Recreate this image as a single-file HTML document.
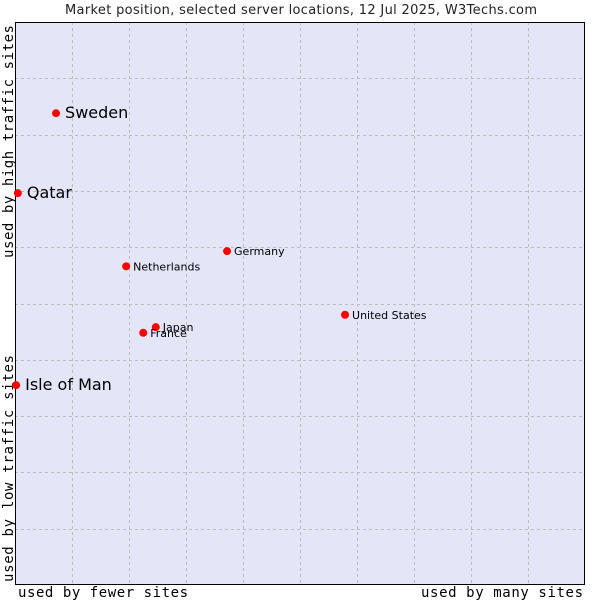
<!DOCTYPE html>
<html><head><meta charset="utf-8"><style>
body{margin:0;background:#fff;width:600px;height:600px;overflow:hidden}
svg text{font-family:"DejaVu Sans","Liberation Sans",sans-serif}
.mono{font-family:"DejaVu Sans Mono","Liberation Mono",monospace}
</style></head><body>
<svg id="chart" width="600" height="600" xmlns="http://www.w3.org/2000/svg">
<text x="301" y="14" text-anchor="middle" font-size="13" textLength="472" lengthAdjust="spacing" fill="#222">Market position, selected server locations, 12 Jul 2025, W3Techs.com</text>
<rect x="15" y="22" width="570" height="563" fill="#e4e6f8"/>
<g id="grid"></g>
<rect x="15.5" y="22.5" width="569" height="562" fill="none" stroke="#000" stroke-width="1"/>
<text class="mono" x="18" y="597" font-size="14" textLength="170" lengthAdjust="spacing" fill="#000">used by fewer sites</text>
<text class="mono" x="421" y="597" font-size="14" textLength="162" lengthAdjust="spacing" fill="#000">used by many sites</text>
<text class="mono" transform="translate(13,258) rotate(-90)" font-size="14" textLength="233" lengthAdjust="spacing" fill="#000">used by high traffic sites</text>
<text class="mono" transform="translate(13,582) rotate(-90)" font-size="14" textLength="227" lengthAdjust="spacing" fill="#000">used by low traffic sites</text>
<g id="points"></g>
</svg>
<script>
const countries=["Sweden","Qatar","Germany","Netherlands","United States","Japan","France","Isle of Man"];
const xValues=[7.2,0.5,37.2,19.5,57.9,24.7,22.5,0.2];
const yValues=[83.8,69.6,59.3,56.6,48.0,45.8,44.8,35.5];
const bigLabel=[true,true,false,false,false,false,false,true];
const NS="http://www.w3.org/2000/svg";
const X0=15,X1=585,Y0=585,Y1=22;
function sx(v){return X0+v/100*(X1-X0);}
function sy(v){return Y0-v/100*(Y0-Y1);}
const grid=document.getElementById('grid');
for(let i=1;i<10;i++){
  const x=Math.round(X0+i*57)+0.5;
  const l=document.createElementNS(NS,'line');
  
  
  l.setAttribute('x1',x);l.setAttribute('x2',x);l.setAttribute('y1',Y1);l.setAttribute('y2',Y0);
  l.setAttribute('stroke','#bcbcbc');l.setAttribute('stroke-dasharray','3,3');
  grid.appendChild(l);
  const y=Math.round(Y1+i*56.3)+0.5;
  const h=document.createElementNS(NS,'line');
  
  
  h.setAttribute('x1',X0);h.setAttribute('x2',X1);h.setAttribute('y1',y);h.setAttribute('y2',y);
  h.setAttribute('stroke','#bcbcbc');h.setAttribute('stroke-dasharray','3,3');
  grid.appendChild(h);
}
const pts=document.getElementById('points');
countries.forEach((c,i)=>{
  const x=sx(xValues[i]),y=sy(yValues[i]);
  const d=document.createElementNS(NS,'circle');
  
  
  d.setAttribute('cx',x);d.setAttribute('cy',y);d.setAttribute('r',4);d.setAttribute('fill','#f00');
  pts.appendChild(d);
  const t=document.createElementNS(NS,'text');
  
  
  const big=bigLabel[i];
  t.setAttribute('x',x+(big?9:7));t.setAttribute('y',y+(big?5:4));
  t.setAttribute('font-size',big?16:11);t.setAttribute('fill','#000');
  t.textContent=c;
  pts.appendChild(t);
});
</script>
</body></html>
